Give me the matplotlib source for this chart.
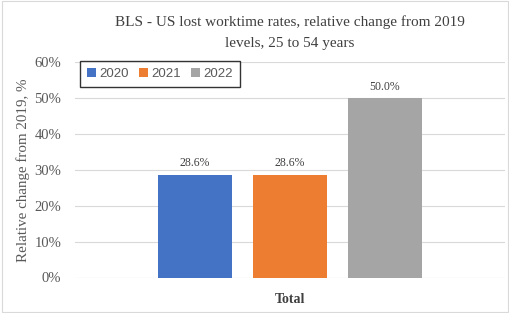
import numpy as np
import matplotlib.pyplot as plt
from matplotlib.patches import Rectangle

# donnees
years = ["2020", "2021", "2022"]
values = [28.6, 28.6, 50.0]
category = ["Total"]
colors = ["#4472C4", "#ED7D31", "#A5A5A5"]

fig = plt.figure(figsize=(5.1, 3.13), dpi=100)
ax = fig.add_axes([75/510, 1-277.5/313, 430/510, (277.5-62)/313])

w = 0.172
offsets = [-0.221, 0, 0.221]
for i in range(len(years)):
    b = ax.bar(offsets[i], values[i], width=w, color=colors[i], label=years[i], zorder=3)
    ax.text(offsets[i], values[i] + 1.5, "%.1f%%" % values[i], ha="center", va="bottom",
            fontsize=8.5, color="#404040", family="Liberation Serif")

ax.set_xlim(-0.5, 0.5)
ax.set_ylim(0, 60)
ax.set_yticks(np.arange(0, 61, 10))
ax.set_yticklabels(["%d%%" % v for v in range(0, 61, 10)], fontsize=10.5,
                   color="#595959", family="Liberation Serif")
ax.set_xticks([0])
ax.set_xticklabels(category, fontsize=10, fontweight="bold", color="#404040",
                   family="Liberation Serif")
ax.tick_params(axis="y", length=0, pad=10)
ax.tick_params(axis="x", length=0, pad=11)
ax.grid(axis="y", color="#D9D9D9", linewidth=0.8, zorder=0)
for s in ax.spines.values():
    s.set_visible(False)

ax.set_ylabel("Relative change from 2019, %", fontsize=10.8, color="#595959",
              family="Liberation Serif", labelpad=3)

fig.text(290/510, 1-22/313, "BLS - US lost worktime rates, relative change from 2019",
         ha="center", va="center", fontsize=11, color="#404040", family="Liberation Serif")
fig.text(290/510, 1-43/313, "levels, 25 to 54 years",
         ha="center", va="center", fontsize=11, color="#404040", family="Liberation Serif")

leg = ax.legend(loc="upper left", bbox_to_anchor=(5/430, 1.005), ncol=3,
                frameon=True, fancybox=False, handlelength=0.65, handleheight=0.65,
                handletextpad=0.25, columnspacing=0.8, borderpad=0.55, borderaxespad=0,
                prop={"family": "Liberation Sans", "size": 9.5})
leg.get_frame().set_edgecolor("black")
leg.get_frame().set_linewidth(1.0)
for t in leg.get_texts():
    t.set_color("#595959")

fig.patches.append(Rectangle((0.003, 0.003), 0.994, 0.994, transform=fig.transFigure,
                             fill=False, edgecolor="#D9D9D9", linewidth=0.8))

fig.savefig("out.png", dpi=100)
